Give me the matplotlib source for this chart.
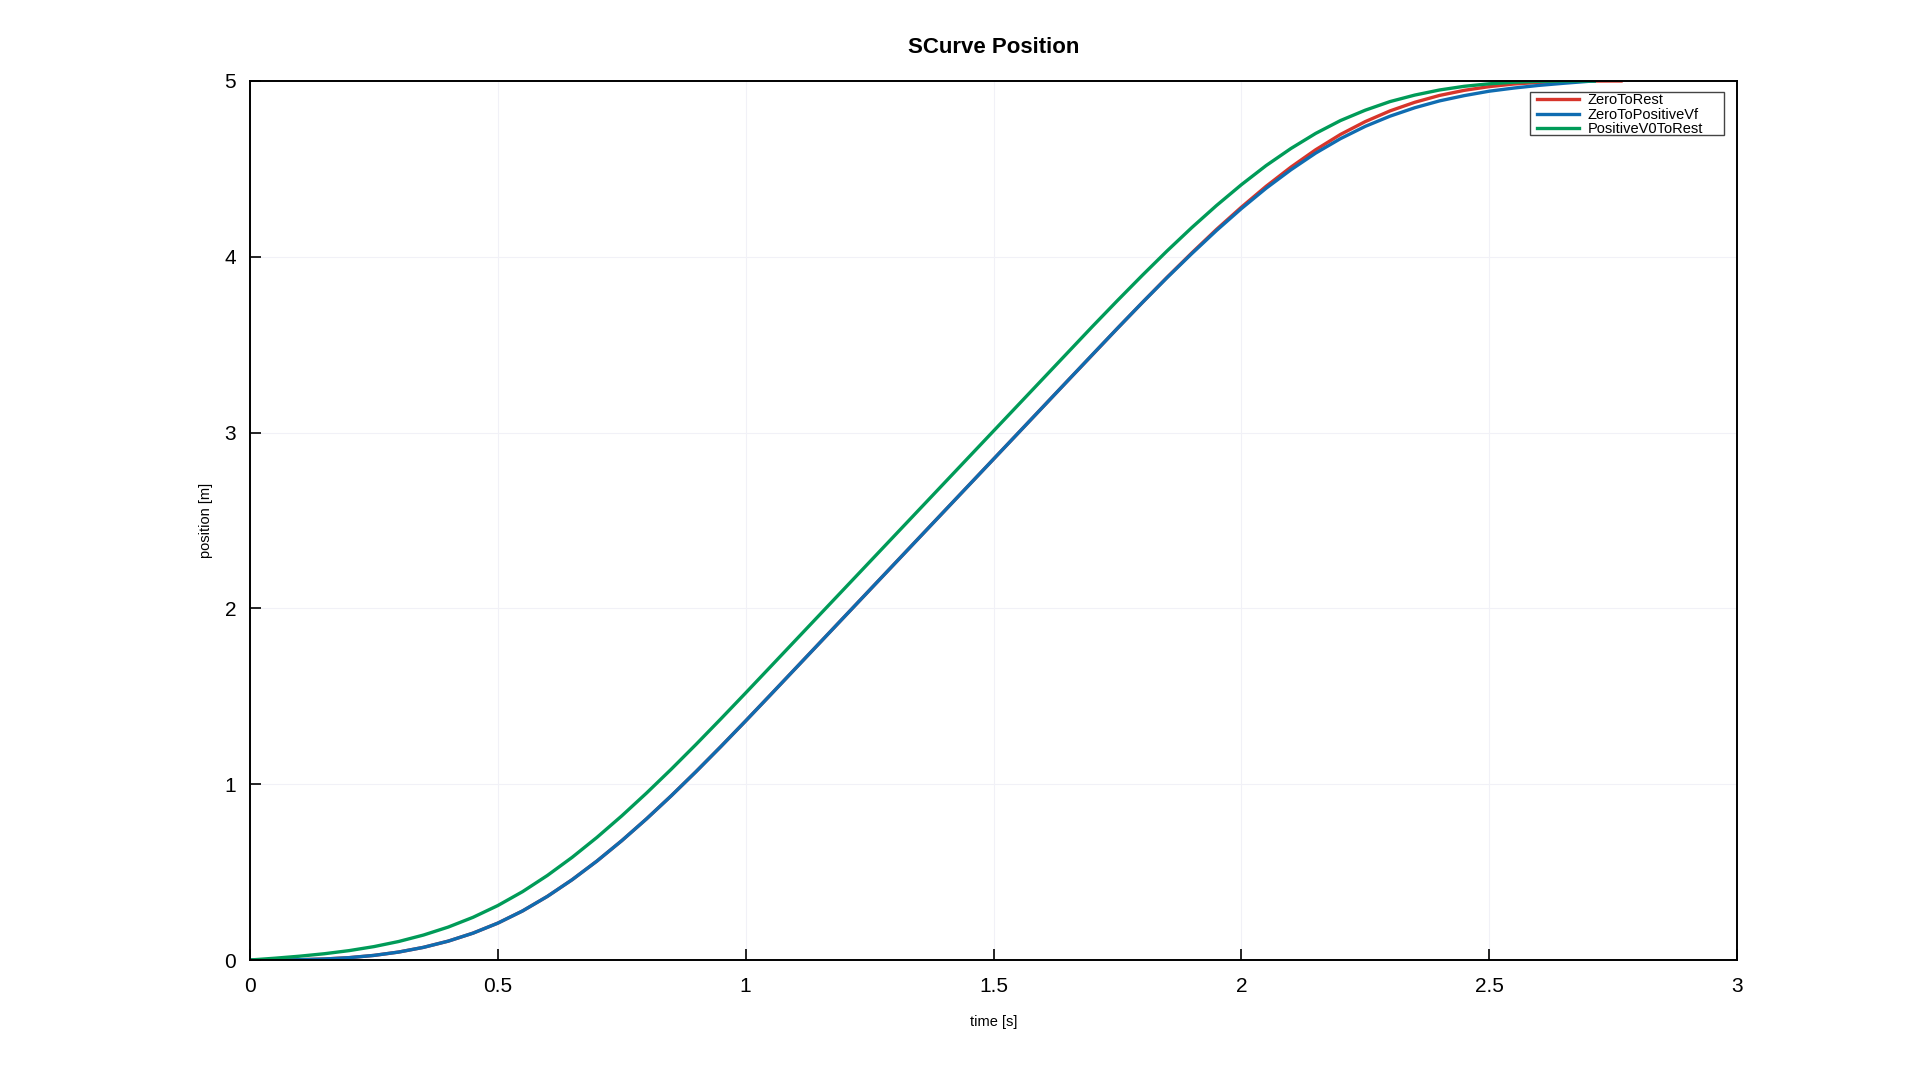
import matplotlib
matplotlib.use('Agg')
import matplotlib.pyplot as plt
from matplotlib.patches import Rectangle

plt.rcParams['font.family'] = ['Liberation Sans', 'DejaVu Sans']

# sample times (s)
times = [0.0, 0.05, 0.1, 0.15, 0.2, 0.25, 0.3, 0.35, 0.4, 0.45,
         0.5, 0.55, 0.6, 0.65, 0.7, 0.75, 0.8, 0.85, 0.9, 0.95,
         1.0, 1.05, 1.1, 1.15, 1.2, 1.25, 1.3, 1.35, 1.4, 1.45,
         1.5, 1.55, 1.6, 1.65, 1.7, 1.75, 1.8, 1.85, 1.9, 1.95,
         2.0, 2.05, 2.1, 2.15, 2.2, 2.25, 2.3, 2.35, 2.4, 2.45,
         2.5, 2.55, 2.6, 2.65, 2.7, 2.75]

t_rest = times + [2.766]
pos_zero_to_rest = [0.0, 0.0002, 0.0017, 0.0057, 0.0134, 0.0262, 0.0453, 0.0720, 0.1074, 0.1529,
                    0.2098, 0.2793, 0.362, 0.4569, 0.563, 0.6787, 0.803, 0.9345, 1.072, 1.2143,
                    1.360, 1.508, 1.657, 1.806, 1.955, 2.104, 2.253, 2.402, 2.551, 2.700,
                    2.849, 2.998, 3.147, 3.296, 3.444, 3.593, 3.739, 3.883, 4.022, 4.156,
                    4.282, 4.401, 4.510, 4.609, 4.696, 4.769, 4.830, 4.879, 4.918, 4.947,
                    4.968, 4.983, 4.992, 4.997, 4.9995, 5.0, 5.0]

t_vf = times[:55] + [2.712]
pos_zero_to_vf = [0.0, 0.0002, 0.0017, 0.0057, 0.0134, 0.0262, 0.0453, 0.0720, 0.1074, 0.1529,
                  0.2098, 0.2793, 0.362, 0.4569, 0.563, 0.6787, 0.803, 0.9345, 1.072, 1.2143,
                  1.360, 1.508, 1.657, 1.806, 1.955, 2.104, 2.253, 2.402, 2.551, 2.700,
                  2.849, 2.998, 3.147, 3.296, 3.445, 3.593, 3.739, 3.881, 4.018, 4.150,
                  4.274, 4.390, 4.495, 4.590, 4.672, 4.742, 4.800, 4.848, 4.887, 4.917,
                  4.942, 4.960, 4.975, 4.987, 4.998, 5.0]

t_v0 = times[:55] + [2.712]
pos_v0_to_rest = [0.0, 0.0102, 0.0217, 0.0357, 0.0534, 0.0762, 0.1053, 0.1420, 0.1874, 0.2429,
                  0.3098, 0.3890, 0.4810, 0.5842, 0.6976, 0.8198, 0.9496, 1.0857, 1.2268, 1.3718,
                  1.5192, 1.6680, 1.817, 1.966, 2.115, 2.264, 2.413, 2.562, 2.711, 2.860,
                  3.009, 3.158, 3.307, 3.456, 3.605, 3.751, 3.894, 4.033, 4.166, 4.292,
                  4.410, 4.519, 4.616, 4.702, 4.775, 4.834, 4.883, 4.920, 4.949, 4.970,
                  4.984, 4.993, 4.998, 5.0, 5.0, 5.0]

labels = ['ZeroToRest', 'ZeroToPositiveVf', 'PositiveV0ToRest']
colors = ['#d7352b', '#0f6cb1', '#009b58']

W, H = 1920, 1080
fig = plt.figure(figsize=(19.2, 10.8), dpi=100)
ax = fig.add_axes([0.1302, 0.1111, 0.7745, 0.8139])

ax.plot(t_rest, pos_zero_to_rest, color=colors[0], lw=2.4, label=labels[0])
ax.plot(t_vf, pos_zero_to_vf, color=colors[1], lw=2.4, label=labels[1])
ax.plot(t_v0, pos_v0_to_rest, color=colors[2], lw=2.4, label=labels[2])

ax.set_xlim(0, 3)
ax.set_ylim(0, 5)
ax.set_xticks([0, 0.5, 1, 1.5, 2, 2.5, 3])
ax.set_xticklabels(['0', '0.5', '1', '1.5', '2', '2.5', '3'])
ax.set_yticks([0, 1, 2, 3, 4, 5])
ax.tick_params(direction='in', length=8, width=1.2, labelsize=15,
               top=False, right=False)
ax.tick_params(axis='x', pad=12)
ax.tick_params(axis='y', pad=10)
ax.grid(True, color='#f1f1f7', lw=0.8)
for sp in ax.spines.values():
    sp.set_linewidth(1.4)

ax.set_xlabel('time [s]', fontsize=10.5, labelpad=14)
ax.set_ylabel('position [m]', fontsize=10.5, labelpad=8.5)
ax.set_title('SCurve Position', fontsize=16, fontweight='bold', pad=20)

# legend box drawn by hand (gnuplot-style, roomier on the right)
box = Rectangle((1530 / W, 1 - 135 / H), 194 / W, 43 / H, transform=fig.transFigure,
                facecolor='white', edgecolor='#444444', lw=1.0, zorder=4, clip_on=False)
ax.add_patch(box)
leg = ax.legend(loc='upper left', bbox_to_anchor=(1537 / W, 1 - 93 / H),
                bbox_transform=fig.transFigure, borderaxespad=0, borderpad=0,
                fontsize=10.5, frameon=False, handlelength=2.9, handletextpad=0.55,
                labelspacing=0.05)
leg.set_zorder(5)

fig.savefig('out.png', dpi=100)
